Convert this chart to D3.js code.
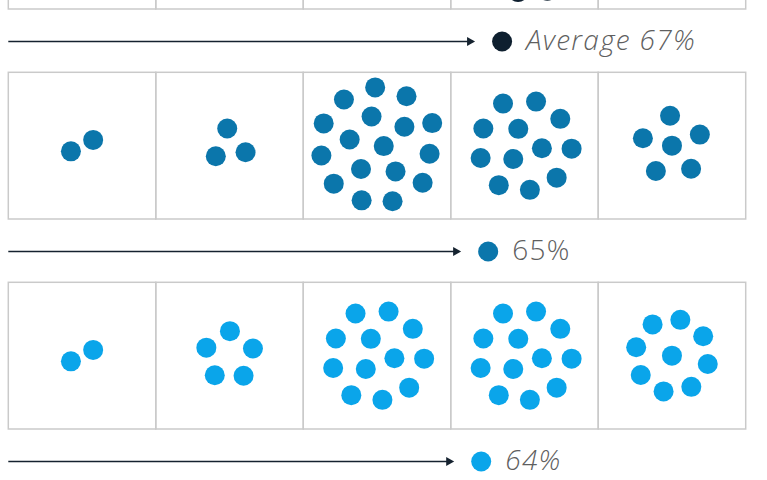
<!DOCTYPE html>
<html>
<head>
<meta charset="utf-8">
<script src="https://cdn.jsdelivr.net/npm/d3@7"></script>
<style>
  html, body { margin: 0; padding: 0; background: #ffffff; }
  svg { display: block; }
  text { font-family: "Open Sans", "Helvetica Neue", "Liberation Sans", sans-serif; }
</style>
</head>
<body>
<svg id="chart" width="767" height="480"></svg>
<script>
// ---- data ----
const columns = ["c1", "c2", "c3", "c4", "c5"];
const groups = ["Average", "Group B", "Group C"];
const averageCounts = [3, 5, 14, 18, 8];
const groupBCounts = [2, 3, 17, 12, 6];
const groupCCounts = [2, 5, 12, 12, 9];
const percents = [67, 65, 64];
const labels = ["Average 67%", "65%", "64%"];
const labelItalic = [true, false, true];
const groupColors = ["#0e1f2f", "#0b76ab", "#0aa5ea"];

const counts = [averageCounts, groupBCounts, groupCCounts];

// ---- layout ----
const svg = d3.select("#chart");

const x = d3.scaleBand().domain(columns).range([8.3, 745.7]).padding(0);
const rowTop = d3.scaleLinear().domain([0, 1]).range([-137.7, 72.3]);
const boxH = 146.7;
const arrowGap = 32.5;
const pct = d3.scaleLinear().domain([0, 100]).range([8.3, 705]);
const dotR = 10;

groups.forEach((g, gi) => {
  const top = rowTop(gi);
  const row = svg.append("g").attr("class", "row");

  row.selectAll("rect.box")
    .data(columns)
    .join("rect")
    .attr("class", "box")
    .attr("x", d => x(d))
    .attr("y", top)
    .attr("width", x.bandwidth())
    .attr("height", boxH)
    .attr("fill", "none")
    .attr("stroke", "#cacaca")
    .attr("stroke-width", 1.5);

  columns.forEach((c, ci) => {
    const n = counts[gi][ci];
    const nodes = d3.range(n).map(i => ({ i }));
    const sim = d3.forceSimulation(nodes)
      .alphaDecay(0.004)
      .force("charge", d3.forceManyBody().strength(-30).theta(0))
      .force("x", d3.forceX(0).strength(0.1))
      .force("y", d3.forceY(0).strength(0.1))
      .force("collide", d3.forceCollide(12.5))
      .stop();
    for (let k = 0; k < 2000; k++) sim.tick();
    const cx = x(c) + x.bandwidth() / 2;
    const cy = top + boxH / 2;
    row.append("g")
      .attr("transform", `translate(${cx},${cy})`)
      .selectAll("circle")
      .data(nodes)
      .join("circle")
      .attr("cx", d => d.x)
      .attr("cy", d => d.y)
      .attr("r", dotR)
      .attr("fill", groupColors[gi]);
  });

  const ay = top + boxH + arrowGap;
  const tip = pct(percents[gi]);
  row.append("line")
    .attr("x1", pct(0)).attr("x2", tip - 6)
    .attr("y1", ay).attr("y2", ay)
    .attr("stroke", "#15222f")
    .attr("stroke-width", 1.5);
  row.append("path")
    .attr("d", d3.line()([[tip - 8, ay - 4.5], [tip, ay], [tip - 8, ay + 4.5]]) + "Z")
    .attr("fill", "#15222f");

  row.append("circle")
    .attr("cx", tip + 27)
    .attr("cy", ay)
    .attr("r", dotR)
    .attr("fill", groupColors[gi]);

  row.append("text")
    .attr("x", tip + 51)
    .attr("y", ay + 8.5)
    .attr("font-size", 28)
    .attr("font-weight", 300)
    .attr("letter-spacing", 1.3)
    .attr("font-style", labelItalic[gi] ? "italic" : "normal")
    .attr("fill", "#5f5f5f")
    .text(labels[gi]);
});
</script>
</body>
</html>
